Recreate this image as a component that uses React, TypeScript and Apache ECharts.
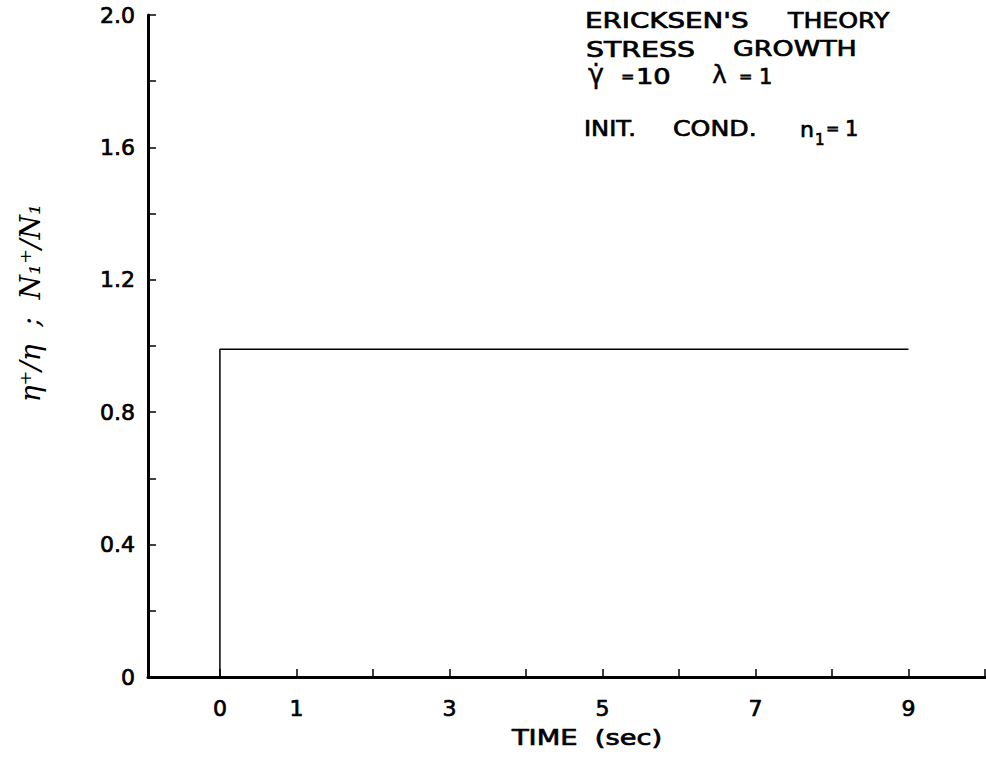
import React, { useEffect, useRef } from "react";
import * as echarts from "echarts";

const curveX = [0, 0, 9];
const curveY = [0, 0.99, 0.99];
const xTickValues = [0, 1, 2, 3, 4, 5, 6, 7, 8, 9, 10];
const xLabelValues = [0, 1, 3, 5, 7, 9];
const yLabelValues = [0, 0.4, 0.8, 1.2, 1.6, 2.0];
const xAxisTitle = "TIME  (sec)";
const yAxisTitle = "η⁺/η  ;  N₁⁺/N₁";

const FONT = "DejaVu Sans";

export default function App() {
  const ref = useRef<HTMLDivElement>(null);
  useEffect(() => {
    if (!ref.current) return;
    const chart = echarts.init(ref.current, undefined, { renderer: "svg" });
    const data = curveX.map((x, i) => [x, curveY[i]]);
    const txt = (x: number, y: number, text: string, size = 21, sx = 1.3, extra: any = {}) => ({
      type: "text",
      x,
      y,
      scaleX: sx,
      style: {
        text,
        fontFamily: FONT,
        fontSize: size,
        fill: "#000",
        stroke: "#000",
        lineWidth: 0.7,
        textVerticalAlign: "top",
        ...extra,
      },
    });
    const labelStyle = {
      color: "#000",
      fontFamily: FONT,
      fontSize: 22,
      textBorderColor: "#000",
      textBorderWidth: 0.7,
    };
    chart.setOption({
      animation: false,
      backgroundColor: "#fff",
      grid: { left: 148, right: 1, top: 15, bottom: 80, containLabel: false },
      xAxis: {
        type: "value",
        min: -0.94,
        max: 10,
        axisLine: { show: true, onZero: false, lineStyle: { color: "#000", width: 3 } },
        axisTick: {
          show: true,
          inside: true,
          length: 8,
          customValues: xTickValues,
          lineStyle: { color: "#000", width: 1.5 },
        },
        axisLabel: {
          customValues: xLabelValues,
          margin: 20,
          ...labelStyle,
        },
        splitLine: { show: false },
      },
      yAxis: {
        type: "value",
        min: 0,
        max: 2,
        interval: 0.2,
        axisLine: { show: true, onZero: false, lineStyle: { color: "#000", width: 3 } },
        axisTick: {
          show: true,
          inside: true,
          length: 8,
          lineStyle: { color: "#000", width: 1.5 },
        },
        axisLabel: {
          customValues: yLabelValues,
          margin: 13,
          ...labelStyle,
          formatter: (v: number) => (v === 0 ? "0" : v.toFixed(1)),
        },
        splitLine: { show: false },
      },
      series: [
        {
          type: "line",
          data,
          symbol: "none",
          lineStyle: { color: "#000", width: 1.5 },
        },
      ],
      graphic: [
        txt(585, 10, "ERICKSEN'S", 21, 1.32),
        txt(788, 10, "THEORY", 21, 1.2),
        txt(586, 39, "STRESS", 21, 1.35),
        txt(733, 39, "GROWTH", 21, 1.28),
        txt(588, 60, "γ̇", 27, 1.0, { lineWidth: 0.4 }),
        txt(621, 68, "=", 16, 1.0),
        txt(636, 66, "10", 21, 1.3),
        txt(712, 62, "λ", 25, 1.0, { lineWidth: 0.4 }),
        txt(739, 68, "=", 16, 1.0),
        txt(759, 66, "1", 21, 1.0),
        txt(584, 118, "INIT.", 21, 1.15),
        txt(673, 118, "COND.", 21, 1.2),
        txt(800, 118, "n", 22, 1.0),
        txt(815, 132, "1", 15, 1.0),
        txt(826, 120, "=", 16, 1.0),
        txt(845, 118, "1", 21, 1.0),
        {
          type: "text",
          x: 587,
          y: 738,
          scaleX: 1.3,
          style: {
            text: xAxisTitle,
            fontFamily: FONT,
            fontSize: 21,
            fill: "#000",
            stroke: "#000",
            lineWidth: 0.7,
            textAlign: "center",
            textVerticalAlign: "middle",
          },
        },
        {
          type: "text",
          x: 30,
          y: 303,
          rotation: Math.PI / 2,
          style: {
            text: yAxisTitle,
            fontFamily: "DejaVu Serif",
            fontStyle: "italic",
            fontSize: 28,
            fill: "#000",
            textAlign: "center",
            textVerticalAlign: "middle",
          },
        },
      ],
    });
    return () => chart.dispose();
  }, []);
  return (
    <div
      ref={ref}
      style={{ position: "fixed", left: 0, top: 0, width: 986, height: 757, background: "#fff" }}
    />
  );
}
